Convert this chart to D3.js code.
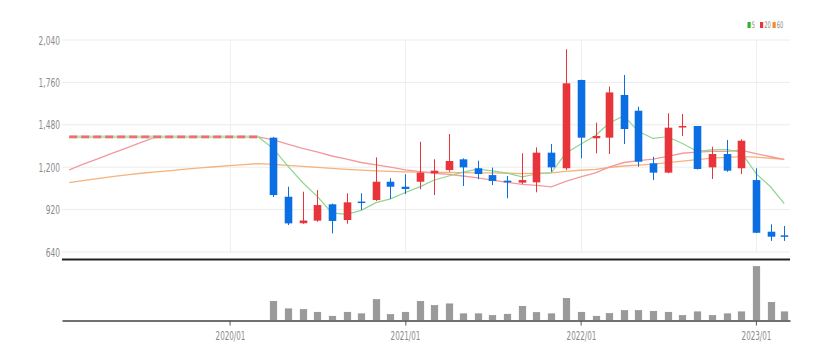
<!DOCTYPE html>
<html>
<head>
<meta charset="utf-8">
<script src="https://cdn.jsdelivr.net/npm/d3@7/dist/d3.min.js"></script>
<style>
  html, body { margin: 0; padding: 0; background: #fff; }
  svg { display: block; }
  text { font-family: "Liberation Sans Narrow", "DejaVu Sans Condensed", "Liberation Sans", sans-serif; }
</style>
</head>
<body>
<svg id="chart" width="833" height="360"></svg>
<script>
// ---------- data ----------
const candleMonths = ["2020/04","2020/05","2020/06","2020/07","2020/08","2020/09","2020/10","2020/11","2020/12",
  "2021/01","2021/02","2021/03","2021/04","2021/05","2021/06","2021/07","2021/08","2021/09","2021/10","2021/11","2021/12",
  "2022/01","2022/02","2022/03","2022/04","2022/05","2022/06","2022/07","2022/08","2022/09","2022/10","2022/11","2022/12",
  "2023/01","2023/02","2023/03"];
const openVals  = [1395,1005,830,847,955,851,973,983,1104,1071,1104,1160,1181,1252,1193,1148,1111,1098,1100,1296,1193,1776,1391,1395,1677,1573,1226,1164,1467,1472,1199,1287,1193,1115,774,750];
const highVals  = [1400,1071,1038,1049,960,1028,1028,1265,1127,1153,1368,1252,1419,1258,1243,1197,1142,1292,1331,1353,1979,1778,1494,1732,1809,1600,1269,1556,1551,1472,1335,1380,1384,1193,823,812];
const lowVals   = [1003,818,826,840,763,827,917,977,990,1023,1054,1016,1170,1076,1120,1082,995,1089,1034,1170,1181,1259,1292,1287,1353,1203,1115,1160,1406,1185,1122,1170,1155,765,713,713];
const closeVals = [1016,829,848,950,845,968,965,1104,1071,1056,1164,1177,1241,1199,1155,1109,1100,1115,1296,1199,1754,1395,1406,1694,1452,1236,1164,1461,1472,1188,1287,1177,1375,767,741,741];
const volumeVals = [19300,11700,11000,8300,4300,8300,6700,21000,6000,8300,19300,15000,16700,6700,6700,5000,6300,14300,8000,6700,22300,8300,4300,7000,10000,10000,9300,8300,5000,8700,5000,6700,8700,54300,18300,8700];

const maMonths = ["2019/02","2019/03","2019/04","2019/05","2019/06","2019/07","2019/08","2019/09","2019/10","2019/11","2019/12",
  "2020/01","2020/02","2020/03"].concat(candleMonths);
const ma5 = [1400,1400,1400,1400,1400,1400,1400,1400,1400,1400,1400,1400,1400,1400,
  1323,1209,1099,1009,898,888,915,966,991,1033,1072,1114,1142,1167,1187,1176,1161,1136,1155,1164,1293,1352,1410,1490,1540,1437,1390,1401,1357,1304,1314,1317,1300,1159,1069,960];
const ma20 = [1183,1219,1255,1291,1328,1364,1400,1400,1400,1400,1400,1400,1400,1400,
  1381,1352,1325,1302,1274,1253,1231,1216,1200,1183,1171,1160,1152,1142,1129,1115,1100,1086,1080,1070,1107,1136,1163,1201,1231,1244,1254,1272,1292,1299,1305,1305,1312,1290,1269,1251];
const ma60 = [1098,1112,1125,1138,1150,1160,1169,1178,1187,1195,1203,1210,1217,1224,
  1219,1212,1205,1199,1192,1186,1181,1176,1172,1169,1167,1166,1165,1164,1163,1162,1160,1158,1160,1162,1172,1180,1186,1198,1208,1214,1220,1230,1240,1250,1260,1265,1270,1266,1259,1252];
const baseMonths = ["2019/02","2019/03","2019/04","2019/05","2019/06","2019/07","2019/08","2019/09","2019/10","2019/11","2019/12","2020/01","2020/02","2020/03"];
const basePrice = [1400,1400,1400,1400,1400,1400,1400,1400,1400,1400,1400,1400,1400,1400];

const priceTicks = [640, 920, 1200, 1480, 1760, 2040];
const xTickLabels = ["2020/01","2021/01","2022/01","2023/01"];
const legendNames = ["5","20","60"];
const legendColors = ["#2fb52f","#e8353b","#f68b26"];

// ---------- setup ----------
const parse = d3.timeParse("%Y/%m");
const svg = d3.select("#chart");
const L = 62, R = 790;
const UP = "#e8353b", DOWN = "#0b6fe3";
const SX = 0.64; // horizontal text condensation

const x = d3.scaleTime()
  .domain([new Date(2019, 0, 17), new Date(2023, 2, 13)])
  .range([L, R]);
const y = d3.scaleLinear().domain([640, 2040]).range([252, 40]);
const vy = d3.scaleLinear().domain([0, d3.max(volumeVals)]).range([320.5, 266.5]);

function ctext(g, tx, ty, str, anchor, size, color) {
  return g.append("text")
    .attr("transform", `translate(${tx},${ty}) scale(${SX},1)`)
    .attr("text-anchor", anchor)
    .attr("font-size", size)
    .attr("fill", color)
    .text(str);
}

// ---------- grid ----------
const grid = svg.append("g");
grid.selectAll("line.h").data(priceTicks).join("line")
  .attr("x1", L).attr("x2", R)
  .attr("y1", d => y(d)).attr("y2", d => y(d))
  .attr("stroke", "#ececec").attr("stroke-width", 1);
grid.selectAll("line.v").data(xTickLabels).join("line")
  .attr("x1", d => Math.round(x(parse(d))) + 0.5).attr("x2", d => Math.round(x(parse(d))) + 0.5)
  .attr("y1", y(2040)).attr("y2", y(640))
  .attr("stroke", "#efefef").attr("stroke-width", 1);

// y labels
const yl = svg.append("g");
priceTicks.forEach(t => ctext(yl, 60, y(t) + 4.5, d3.format(",")(t), "end", 13, "#8a8a8a"));

// ---------- moving averages ----------
const lineGen = d3.line().x(d => x(parse(d[0]))).y(d => y(d[1]));
const maG = svg.append("g").attr("fill", "none");
maG.append("path").datum(d3.zip(maMonths, ma60)).attr("d", lineGen)
  .attr("stroke", "#f7b27a").attr("stroke-width", 1.3);
maG.append("path").datum(d3.zip(maMonths, ma20)).attr("d", lineGen)
  .attr("stroke", "#f29a9d").attr("stroke-width", 1.3);
maG.append("path").datum(d3.zip(maMonths, ma5)).attr("d", lineGen)
  .attr("stroke", "#8fd68f").attr("stroke-width", 1.2);
// pre-listing base price (thick dashed)
maG.append("path").datum(d3.zip(baseMonths, basePrice)).attr("d", lineGen)
  .attr("stroke", "#b9e6b9").attr("stroke-width", 2.6);
maG.append("path").datum(d3.zip(baseMonths, basePrice)).attr("d", lineGen)
  .attr("stroke", "#ee6f73").attr("stroke-width", 2.6).attr("stroke-dasharray", "8,4");

// ---------- candles ----------
const candles = candleMonths.map((m, i) => ({
  m, o: openVals[i], h: highVals[i], l: lowVals[i], c: closeVals[i], v: volumeVals[i]
}));
const cg = svg.append("g");
const bw = 7.6;
const cx = d => Math.round(x(parse(d.m))) + 0.5;
cg.selectAll("line.wick").data(candles).join("line")
  .attr("x1", cx).attr("x2", cx)
  .attr("y1", d => y(d.h)).attr("y2", d => y(d.l))
  .attr("stroke", d => d.c >= d.o ? UP : DOWN).attr("stroke-width", 1);
cg.selectAll("rect.body").data(candles).join("rect")
  .attr("x", d => cx(d) - bw / 2)
  .attr("width", bw)
  .attr("y", d => y(Math.max(d.o, d.c)))
  .attr("height", d => Math.max(1.5, Math.abs(y(d.o) - y(d.c))))
  .attr("fill", d => d.c >= d.o ? UP : DOWN);

// separator line
svg.append("line").attr("x1", L).attr("x2", R).attr("y1", 259.5).attr("y2", 259.5)
  .attr("stroke", "#222").attr("stroke-width", 2);

// ---------- volume ----------
const vg = svg.append("g");
const vw = 6.6;
vg.selectAll("rect").data(candles).join("rect")
  .attr("x", d => cx(d) - vw / 2).attr("width", vw)
  .attr("y", d => vy(d.v)).attr("height", d => vy(0) - vy(d.v))
  .attr("fill", "#9a9a9a").attr("stroke", "#8a8a8a").attr("stroke-width", 0.6);

// volume x axis
const xAxis = d3.axisBottom(x)
  .tickValues(xTickLabels.map(parse))
  .tickFormat("")
  .tickSize(5)
  .tickSizeOuter(0);
const axG = svg.append("g").attr("transform", "translate(0,320.5)").call(xAxis);
axG.select(".domain").attr("stroke", "#707070").attr("stroke-width", 2.2);
axG.selectAll(".tick line").attr("stroke", "#555").attr("stroke-width", 1);
xTickLabels.forEach(t => ctext(svg, Math.round(x(parse(t))) + 0.5, 340, t, "middle", 12.5, "#8a8a8a"));

// ---------- legend ----------
const lg = svg.append("g");
const legendX = [747.5, 760, 772.5];
legendNames.forEach((n, i) => {
  lg.append("rect").attr("x", legendX[i]).attr("y", 22).attr("width", 3.2).attr("height", 6)
    .attr("fill", legendColors[i]);
  ctext(lg, legendX[i] + 4.3, 28, n, "start", 9, "#8a8a8a");
});
</script>
</body>
</html>
